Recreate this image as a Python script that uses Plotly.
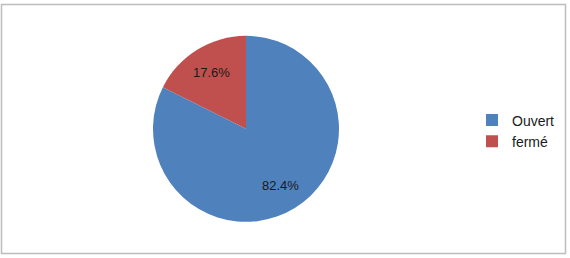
import math
import plotly.graph_objects as go

labels = ["Ouvert", "fermé"]
values = [82.4, 17.6]
colors = ["#4F81BD", "#C0504D"]

W, H = 570, 258
px0, px1 = 153, 339          # pie horizontal extent (px)
py0, py1 = 36, 222.3         # pie vertical extent from bottom (px)

fig = go.Figure(go.Pie(
    labels=labels,
    values=values,
    marker=dict(colors=colors, line=dict(width=0)),
    sort=False,
    direction="clockwise",
    rotation=0,
    textinfo="none",
    hoverinfo="label+percent",
    domain=dict(x=[px0/W, px1/W], y=[py0/H, py1/H]),
))

# data labels placed along each slice's bisector
cx, cy = (px0 + px1) / 2, (py0 + py1) / 2
r = (px1 - px0) / 2
total = sum(values)
cum = 0
for v in values:
    mid = (cum + v / 2) / total * 2 * math.pi
    cum += v
    d = 0.71 * r
    x = cx + d * math.sin(mid)
    y = cy + d * math.cos(mid)
    fig.add_annotation(x=x / W, y=y / H, xref="paper", yref="paper",
                       xanchor="center", yanchor="middle",
                       text=f"{v / total * 100:.1f}%", showarrow=False,
                       font=dict(family="Liberation Sans, Arial, sans-serif", size=13, color="#1a1a1a"))

fig.add_shape(type="rect", xref="paper", yref="paper",
              x0=1.5/W, x1=565.5/W, y0=1-253.5/H, y1=1-4.5/H,
              line=dict(color="#BDBDBD", width=1.5), fillcolor="rgba(0,0,0,0)")

fig.update_layout(
    width=W, height=H,
    margin=dict(l=0, r=0, t=0, b=0),
    paper_bgcolor="white",
    plot_bgcolor="white",
    showlegend=True,
    legend=dict(x=472/W, xanchor="left", y=1-131/H, yanchor="middle",
                font=dict(family="Liberation Sans, Arial, sans-serif", size=14, color="#1a1a1a"),
                bgcolor="rgba(0,0,0,0)", tracegroupgap=0),
)

fig.write_html("out.html")
